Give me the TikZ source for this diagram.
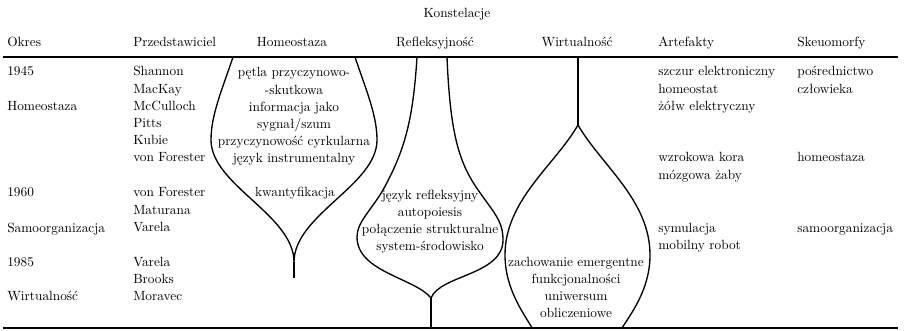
\documentclass[tikz,border=0pt]{standalone}

\tikzset{
  col/.style={anchor=base west, align=left, inner sep=0pt, font=\fontsize{10}{12.9}\selectfont},
  mid/.style={anchor=base, align=center, inner sep=0pt, font=\fontsize{10}{12.9}\selectfont},
  bulb/.style={line width=1pt},
  rule/.style={line width=1.2pt}
}

\begin{document}
\begin{tikzpicture}[x=0.75pt,y=-0.75pt]
            \useasboundingbox (0,0) rectangle (905,331);
            % headers
            \node[mid] (konst) at (457,18) {Konstelacje};
            \node[col] (okres) at (7,47) {Okres};
            \node[col] (przed) at (133,47) {Przedstawiciel};
            \node[mid] (hhomeo) at (292,47) {Homeostaza};
            \node[mid] (hrefl) at (435,47) {Refleksyjność};
            \node[mid] (hwirt) at (577,47) {Wirtualność};
            \node[col] (hart) at (658,47) {Artefakty};
            \node[col] (hskeu) at (797,47) {Skeuomorfy};
            \draw[rule] (3,57) -- (898,57);
            \draw[rule] (3,328) -- (898,328);
            % periods (multi-line nodes sit on their last baseline)
            \node[col] (r1945) at (7,76) {1945};
            \node[col] (rhomeo) at (7,111) {Homeostaza};
            \node[col] (r1960) at (7,197) {1960};
            \node[col] (rsamo) at (7,232) {Samoorganizacja};
            \node[col] (r1985) at (7,266) {1985};
            \node[col] (rwirt) at (7,300) {Wirtualność};
            % people
            \node[col] (p1) at (133,162) {Shannon\\MacKay\\McCulloch\\Pitts\\Kubie\\von Forester};
            \node[col] (p2) at (133,231.4) {von Forester\\Maturana\\Varela};
            \node[col] (p3) at (133,300.4) {Varela\\Brooks\\Moravec};
            % constellations
            \draw[bulb] (233,57) .. controls (222,90) and (211,115) .. (211,140) .. controls (211,185) and (294,215) .. (294,262) .. controls (294,215) and (377,185) .. (377,140) .. controls (377,115) and (366,90) .. (355,57);
            \draw[bulb] (294,262) -- (294,278);
            \draw[bulb] (417,57) .. controls (413,120) and (405,150) .. (383,190) .. controls (370,212) and (357,222) .. (357,237) .. controls (357,272) and (415,278) .. (431,298) .. controls (440,275) and (503,275) .. (503,240) .. controls (503,220) and (493,212) .. (476,187) .. controls (458,160) and (450,130) .. (447,57);
            \draw[bulb] (431,298) -- (431,328);
            \draw[bulb] (578,57) -- (578,125);
            \draw[bulb] (532,328) .. controls (525,315) and (505,290) .. (505,255) .. controls (505,200) and (555,165) .. (578,125) .. controls (601,165) and (650,200) .. (650,255) .. controls (650,290) and (630,315) .. (622,328);
            \node[mid] (homeo1) at (294,163) {pętla przyczynowo-\\-skutkowa\\informacja jako\\sygnał/szum\\przyczynowość cyrkularna\\język instrumentalny};
            \node[mid] (homeo2) at (295,197) {kwantyfikacja};
            \node[mid] (refl) at (430,250.6) {język refleksyjny\\autopoiesis\\połączenie strukturalne\\system-środowisko};
            \node[mid] (wirt) at (576,317.6) {zachowanie emergentne\\funkcjonalności\\uniwersum\\obliczeniowe};
            % artefacts and skeuomorphs
            \node[col] (a1) at (658,110.4) {szczur elektroniczny\\homeostat\\żółw elektryczny};
            \node[col] (a2) at (658,179.2) {wzrokowa kora\\mózgowa żaby};
            \node[col] (a3) at (658,249.2) {symulacja\\mobilny robot};
            \node[col] (s1) at (797,93.2) {pośrednictwo\\człowieka};
            \node[col] (s2) at (797,162) {homeostaza};
            \node[col] (s3) at (797,232) {samoorganizacja};
        \end{tikzpicture}
\end{document}
